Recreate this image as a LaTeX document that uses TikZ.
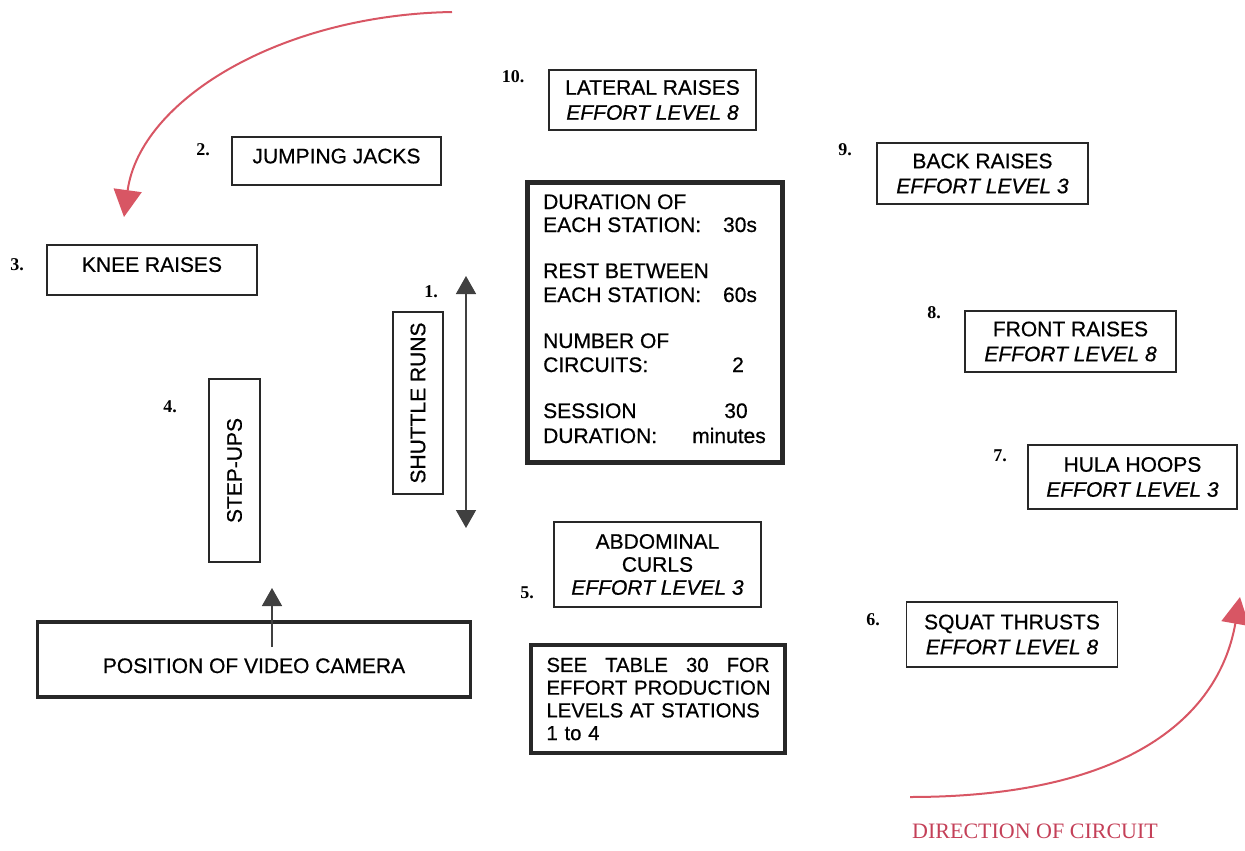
\documentclass[tikz,border=0pt]{standalone}
\usepackage{fontspec}
\setmainfont{Liberation Sans}[FakeBold=0.6]
\newfontfamily\numfont{Liberation Serif}
\usetikzlibrary{arrows.meta}
\definecolor{circred}{RGB}{216,86,100}
\definecolor{labred}{RGB}{196,64,88}
\definecolor{arrgray}{RGB}{64,64,64}
\definecolor{boxline}{RGB}{40,40,40}
\tikzset{
  box/.style={draw=boxline, line width=1.5pt, inner sep=0pt, align=center,
    font=\fontsize{21}{25}\selectfont},
  thickbox/.style={draw=boxline, line width=4.5pt, inner sep=0pt},
  num/.style={font=\numfont\bfseries\fontsize{18}{20}\selectfont, inner sep=0pt},
  txt/.style={font=\fontsize{21}{25}\selectfont, inner sep=0pt},
  redarrow/.style={circred, line width=2pt, -{Triangle[length=27pt,width=28pt]}},
  grayarrow/.style={arrgray, line width=1.5pt},
  graytip/.tip={Triangle[length=18pt,width=20pt]},
}
\begin{document}
\begin{tikzpicture}[x=1pt,y=-1pt]
\useasboundingbox (0,0) rectangle (1245,851);

% stations
\node[box, minimum width=209, minimum height=48, text depth=10pt] (jj) at (336.5,161) {JUMPING JACKS};
\node[box, minimum width=210, minimum height=50, text depth=11pt] (kr) at (152,270) {KNEE RAISES};
\node[box, minimum width=207, minimum height=60] (lr) at (652.5,100) {LATERAL RAISES\\\itshape EFFORT LEVEL 8};
\node[box, minimum width=211, minimum height=61] (br) at (982.5,173.5) {BACK RAISES\\\itshape EFFORT LEVEL 3};
\node[box, minimum width=211, minimum height=61] (fr) at (1070.5,341.5) {FRONT RAISES\\\itshape EFFORT LEVEL 8};
\node[box, minimum width=209, minimum height=64] (hh) at (1132.5,477) {HULA HOOPS\\\itshape EFFORT LEVEL 3};
\node[box, minimum width=207, minimum height=85, font=\fontsize{21}{23}\selectfont] (ac) at (657.5,564.5) {ABDOMINAL\\CURLS\\\itshape EFFORT LEVEL 3};
\node[box, minimum width=211, minimum height=65] (sq) at (1012,634.5) {SQUAT THRUSTS\\\itshape EFFORT LEVEL 8};
\node[box, rotate=90, minimum width=182, minimum height=50] (sr) at (418,403) {SHUTTLE RUNS};
\node[box, rotate=90, minimum width=183, minimum height=51] (su) at (234.5,470.5) {STEP-UPS};

% numbers
\node[num] (n1) at (431,292) {1.};
\node[num] (n2) at (203,150) {2.};
\node[num] (n3) at (17,265) {3.};
\node[num] (n4) at (170,407) {4.};
\node[num] (n5) at (527,593) {5.};
\node[num] (n6) at (873,620) {6.};
\node[num] (n7) at (1000,456) {7.};
\node[num] (n8) at (934,313) {8.};
\node[num] (n9) at (845,150) {9.};
\node[num] (n10) at (513,77) {10.};

% camera
\node[box, line width=3.2pt, minimum width=433, minimum height=75, text height=27pt, text depth=0pt] (cam) at (254,659.5) {POSITION OF VIDEO CAMERA};
\coordinate (camstart) at (272,647);
\coordinate (camtip) at (272,588);
\draw[grayarrow, -graytip] (camstart) -- (camtip);

% shuttle arrow
\coordinate (shtop) at (466,276);
\coordinate (shbot) at (466,528);
\draw[grayarrow, graytip-graytip] (shtop) -- (shbot);

% duration box
\node[thickbox, minimum width=255, minimum height=280] (dur) at (655,322.5) {};
\node[txt, anchor=base west] (d1) at (543,209) {DURATION OF};
\node[txt, anchor=base west] (d2) at (543,232) {EACH STATION:};
\node[txt, anchor=base] (d2v) at (740,232) {30s};
\node[txt, anchor=base west] (d3) at (543,278) {REST BETWEEN};
\node[txt, anchor=base west] (d4) at (543,302) {EACH STATION:};
\node[txt, anchor=base] (d4v) at (740,302) {60s};
\node[txt, anchor=base west] (d5) at (543,348) {NUMBER OF};
\node[txt, anchor=base west] (d6) at (543,372) {CIRCUITS:};
\node[txt, anchor=base] (d6v) at (738,372) {2};
\node[txt, anchor=base west] (d7) at (543,418) {SESSION};
\node[txt, anchor=base] (d7v) at (736,418) {30};
\node[txt, anchor=base west] (d8) at (543,443) {DURATION:};
\node[txt, anchor=base] (d8v) at (729,443) {minutes};

% see table box
\node[thickbox, line width=4pt, minimum width=254, minimum height=108, inner xsep=15.5pt,
  text width=223pt, align=left, font=\fontsize{20.3}{22.7}\selectfont] (st) at (658,699)
  {\makebox[223pt][s]{SEE\hfill TABLE\hfill 30\hfill FOR}\\\mbox{EFFORT PRODUCTION}\\\mbox{LEVELS AT STATIONS}\\\mbox{1 to 4}};

% circuit direction arrows
\coordinate (ra1) at (452,12);
\coordinate (ra1e) at (124,217);
\draw[redarrow] (ra1) .. controls (280,15) and (140,100) .. (ra1e);
\coordinate (rb1) at (910,797);
\coordinate (rb1e) at (1240,597);
\draw[redarrow] (rb1) .. controls (1120,797) and (1218,722) .. (rb1e);

\node[font=\numfont\fontsize{22}{24}\selectfont, text=labred, inner sep=0pt] (dir) at (1035,831) {DIRECTION OF CIRCUIT};
\end{tikzpicture}
\end{document}
